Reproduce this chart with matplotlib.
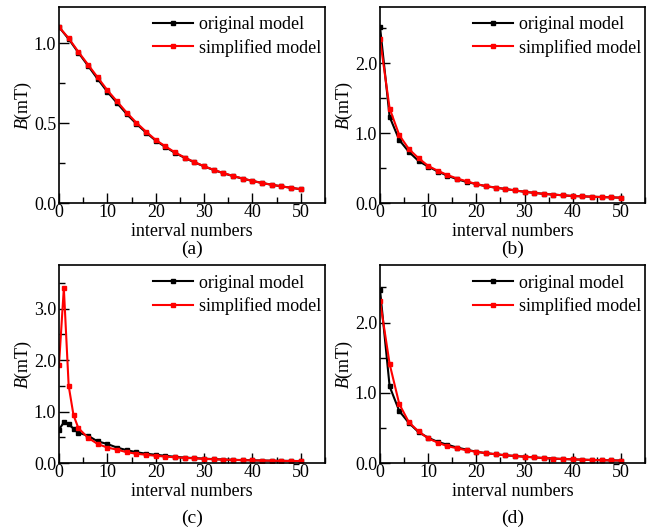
import matplotlib
matplotlib.use("Agg")
import matplotlib.pyplot as plt
from matplotlib.ticker import MultipleLocator, FormatStrFormatter

plt.rcParams['font.family'] = ['Liberation Serif', 'DejaVu Serif']
plt.rcParams['mathtext.fontset'] = 'custom'
plt.rcParams['mathtext.it'] = 'Liberation Serif:italic'
plt.rcParams['mathtext.rm'] = 'Liberation Serif'

# ---- data ----
x_even = [0, 2, 4, 6, 8, 10, 12, 14, 16, 18, 20, 22, 24, 26, 28, 30, 32, 34, 36, 38, 40, 42, 44, 46, 48, 50]
x_c = [0, 1, 2, 3, 4, 6, 8, 10, 12, 14, 16, 18, 20, 22, 24, 26, 28, 30, 32, 34, 36, 38, 40, 42, 44, 46, 48, 50]

a_orig = [1.10, 1.025, 0.940, 0.858, 0.775, 0.695, 0.625, 0.556, 0.495, 0.440, 0.390, 0.350, 0.313, 0.282, 0.254, 0.229, 0.206, 0.186, 0.168, 0.152, 0.138, 0.125, 0.114, 0.104, 0.095, 0.086]
a_simp = [1.10, 1.030, 0.945, 0.865, 0.785, 0.705, 0.635, 0.565, 0.502, 0.446, 0.394, 0.354, 0.316, 0.284, 0.256, 0.230, 0.207, 0.187, 0.169, 0.153, 0.138, 0.125, 0.114, 0.104, 0.095, 0.086]

b_orig = [2.52, 1.23, 0.90, 0.73, 0.60, 0.52, 0.45, 0.39, 0.34, 0.30, 0.27, 0.24, 0.22, 0.20, 0.18, 0.16, 0.145, 0.13, 0.12, 0.11, 0.10, 0.095, 0.09, 0.085, 0.08, 0.076]
b_simp = [2.34, 1.35, 0.97, 0.77, 0.64, 0.53, 0.46, 0.40, 0.35, 0.31, 0.27, 0.24, 0.22, 0.20, 0.18, 0.16, 0.145, 0.13, 0.12, 0.11, 0.10, 0.095, 0.09, 0.085, 0.08, 0.076]

c_orig = [0.65, 0.79, 0.75, 0.67, 0.59, 0.53, 0.42, 0.37, 0.30, 0.25, 0.21, 0.18, 0.16, 0.14, 0.12, 0.105, 0.095, 0.085, 0.075, 0.068, 0.062, 0.057, 0.052, 0.048, 0.045, 0.042, 0.040, 0.038]
c_simp = [1.91, 3.40, 1.50, 0.93, 0.68, 0.49, 0.37, 0.30, 0.26, 0.21, 0.18, 0.16, 0.14, 0.125, 0.11, 0.10, 0.09, 0.08, 0.072, 0.065, 0.060, 0.055, 0.050, 0.047, 0.044, 0.041, 0.039, 0.037]

d_orig = [2.47, 1.09, 0.74, 0.57, 0.44, 0.36, 0.30, 0.26, 0.22, 0.19, 0.16, 0.14, 0.125, 0.11, 0.10, 0.09, 0.08, 0.07, 0.063, 0.057, 0.052, 0.047, 0.043, 0.040, 0.037, 0.035]
d_simp = [2.31, 1.41, 0.84, 0.58, 0.45, 0.35, 0.29, 0.24, 0.21, 0.18, 0.16, 0.14, 0.125, 0.11, 0.10, 0.09, 0.08, 0.07, 0.063, 0.057, 0.052, 0.047, 0.043, 0.040, 0.037, 0.035]

panel_labels = ["(a)", "(b)", "(c)", "(d)"]
series = [(x_even, a_orig, x_even, a_simp), (x_even, b_orig, x_even, b_simp),
          (x_c, c_orig, x_c, c_simp), (x_even, d_orig, x_even, d_simp)]
ymaxes = [1.225, 2.8, 3.85, 2.82]
majors = [0.5, 1.0, 1.0, 1.0]
minors = [0.25, 0.5, 0.5, 0.5]

W, H = 656, 528
fig = plt.figure(figsize=(W / 100, H / 100), dpi=100)

boxes = [(59, 7, 325, 203), (380, 7, 645, 203), (59, 265, 325, 463), (380, 265, 645, 463)]
label_y = [249, 249, 518, 518]
FS = 13

for i, ((xo, yo, xs, ys), (l, t, r, b)) in enumerate(zip(series, boxes)):
    ax = fig.add_axes([l / W, 1 - b / H, (r - l) / W, (b - t) / H])
    ax.plot(xo, yo, color='black', lw=1.5, marker='s', ms=2.2, label='original model')
    ax.plot(xs, ys, color='#ff0000', lw=1.5, marker='s', ms=2.2, label='simplified model')
    ax.set_xlim(0, 55)
    ax.set_ylim(0, ymaxes[i])
    ax.xaxis.set_major_locator(MultipleLocator(10))
    ax.xaxis.set_minor_locator(MultipleLocator(5))
    ax.yaxis.set_major_locator(MultipleLocator(majors[i]))
    ax.yaxis.set_minor_locator(MultipleLocator(minors[i]))
    ax.yaxis.set_major_formatter(FormatStrFormatter("%.1f"))
    ax.tick_params(which='both', direction='in', top=False, right=False, labelsize=FS, width=1.0)
    ax.tick_params(which='major', length=7)
    ax.tick_params(which='minor', length=4)
    ax.tick_params(axis='x', which='major', pad=1)
    ax.tick_params(axis='y', which='major', pad=2)
    for s in ax.spines.values():
        s.set_linewidth(1.2)
    ax.set_xlabel('interval numbers', fontsize=FS, labelpad=1)
    ax.set_ylabel(r'$\mathit{B}$(mT)', fontsize=FS, labelpad=0)
    ax.legend(loc='upper right', bbox_to_anchor=(1.0, 0.97), frameon=False, fontsize=FS,
              handlelength=2.2, handletextpad=0.35, labelspacing=0.3,
              borderaxespad=0.0, borderpad=0.2)
    fig.text((l + r) / 2 / W, 1 - label_y[i] / H, panel_labels[i],
             ha='center', va='center', fontsize=FS + 1)

fig.savefig('out.png', dpi=100)
